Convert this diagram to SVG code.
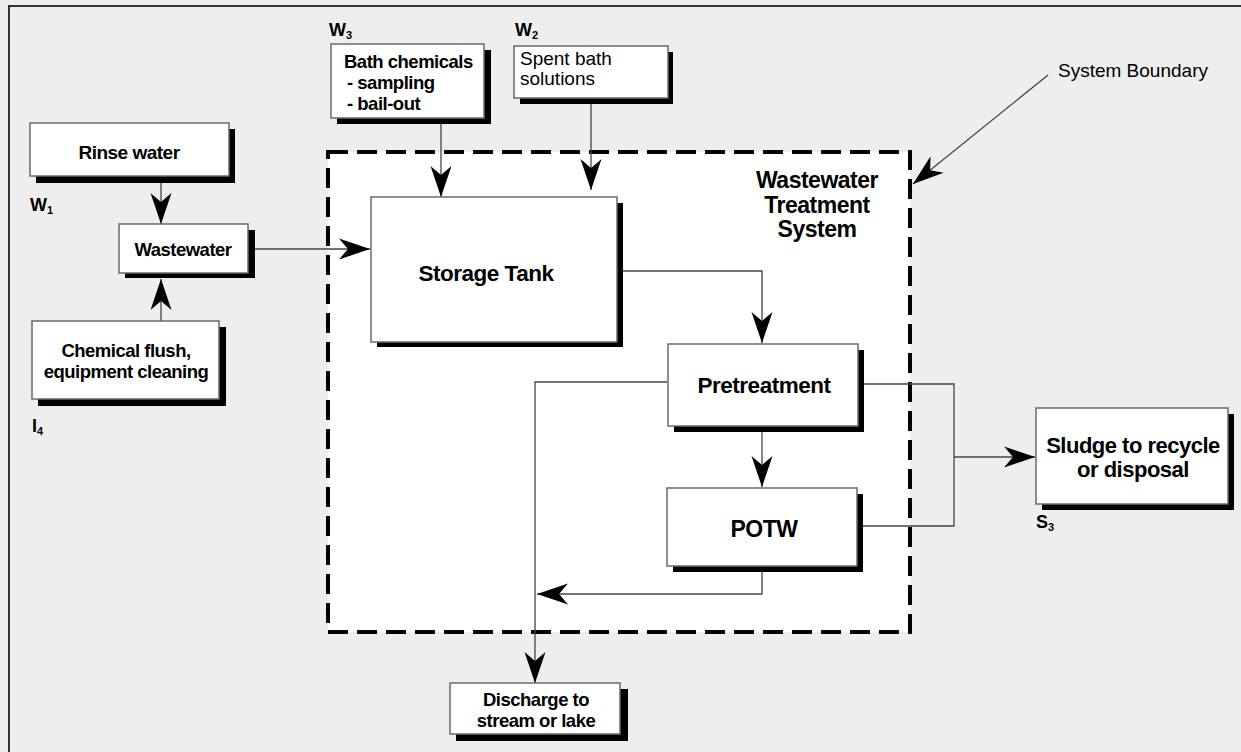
<svg xmlns="http://www.w3.org/2000/svg" width="1241" height="752" viewBox="0 0 1241 752">
  <style>
    text { font-family: "Liberation Sans", Arial, sans-serif; fill: #000; }
    .b { font-weight: bold; letter-spacing: -0.5px; }
    .box { fill: #fff; stroke: #6a6a6a; stroke-width: 1.5; }
    .sh { fill: #000; }
    .conn { fill: none; stroke: #444; stroke-width: 1.3; }
    .lbl { font-weight: bold; font-size: 18px; }
    .sub { font-size: 11px; }
  </style>
  <defs>
    <marker id="ah" viewBox="-32 -12 33 24" markerWidth="33" markerHeight="24" refX="0" refY="0" orient="auto" markerUnits="userSpaceOnUse">
      <path d="M0,0 L-31,-10.5 L-22,0 L-31,10.5 Z" fill="#000"/>
    </marker>
  </defs>

  <!-- page background and frame -->
  <rect x="0" y="0" width="1241" height="752" fill="#eeeeee"/>
  <path d="M9,752 V6 H1241" fill="none" stroke="#333" stroke-width="2"/>

  <!-- system boundary -->
  <g id="boundary">
    <rect x="328" y="152" width="582" height="480" fill="#fff" stroke="#000" stroke-width="4" stroke-dasharray="20 9"/>
    <text class="b" font-size="23" text-anchor="middle" x="817" y="188">Wastewater</text>
    <text class="b" font-size="23" text-anchor="middle" x="817" y="213">Treatment</text>
    <text class="b" font-size="23" text-anchor="middle" x="817" y="237">System</text>
  </g>

  <!-- connectors -->
  <g id="connectors" class="conn">
    <path class="conn" d="M161,183 V224" marker-end="url(#ah)"/>
    <path class="conn" d="M161,321 V279" marker-end="url(#ah)"/>
    <path class="conn" d="M255,249 H370" marker-end="url(#ah)"/>
    <path class="conn" d="M441,124 V197" marker-end="url(#ah)"/>
    <path class="conn" d="M591,104 V190" marker-end="url(#ah)"/>
    <path class="conn" d="M623,271 H762 V343" marker-end="url(#ah)"/>
    <path class="conn" d="M762,432 V487" marker-end="url(#ah)"/>
    <path class="conn" d="M667,382 H535 V683" marker-end="url(#ah)"/>
    <path class="conn" d="M762,572 V594 H537" marker-end="url(#ah)"/>
    <path class="conn" d="M864,384 H954 V526 H863"/>
    <path class="conn" d="M954,457 H1035" marker-end="url(#ah)"/>
    <path class="conn" d="M1048,75 L913,184" marker-end="url(#ah)"/>
  </g>

  <g id="rinse-water">
    <rect class="sh" x="36" y="129" width="199" height="54"/>
    <rect class="box" x="30" y="123" width="199" height="53"/>
    <text class="b" font-size="19" text-anchor="middle" x="129" y="159">Rinse water</text>
    <text class="lbl" x="30" y="211">W<tspan class="sub" dy="3">1</tspan></text>
  </g>

  <g id="wastewater">
    <rect class="sh" x="125" y="230" width="130" height="48"/>
    <rect class="box" x="119" y="224" width="129" height="49"/>
    <text class="b" font-size="18.5" text-anchor="middle" x="183" y="256">Wastewater</text>
  </g>

  <g id="chemical-flush">
    <rect class="sh" x="38" y="327" width="188" height="79"/>
    <rect class="box" x="32" y="321" width="187" height="78"/>
    <text class="b" font-size="18.5" text-anchor="middle" x="126" y="357">Chemical flush,</text>
    <text class="b" font-size="18.5" text-anchor="middle" x="126" y="378">equipment cleaning</text>
    <text class="lbl" x="32" y="432">I<tspan class="sub" dy="3">4</tspan></text>
  </g>

  <g id="bath-chemicals">
    <rect class="sh" x="337" y="50" width="154" height="74"/>
    <rect class="box" x="331" y="44" width="153" height="74"/>
    <text class="b" font-size="18.5" x="344" y="68">Bath chemicals</text>
    <text class="b" font-size="18.5" x="347" y="89">- sampling</text>
    <text class="b" font-size="18.5" x="347" y="110">- bail-out</text>
    <text class="lbl" x="329" y="36">W<tspan class="sub" dy="3">3</tspan></text>
  </g>

  <g id="spent-bath">
    <rect class="sh" x="520" y="52" width="153" height="52"/>
    <rect class="box" x="514" y="46" width="154" height="52"/>
    <text font-size="19" x="520" y="65">Spent bath</text>
    <text font-size="19" x="520" y="85">solutions</text>
    <text class="lbl" x="515" y="36">W<tspan class="sub" dy="3">2</tspan></text>
  </g>

  <g id="storage-tank">
    <rect class="sh" x="377" y="203" width="246" height="144"/>
    <rect class="box" x="371" y="197" width="246" height="145"/>
    <text class="b" font-size="22.5" text-anchor="middle" x="486" y="281">Storage Tank</text>
  </g>

  <g id="pretreatment">
    <rect class="sh" x="674" y="350" width="190" height="82"/>
    <rect class="box" x="668" y="344" width="190" height="82"/>
    <text class="b" font-size="22.5" text-anchor="middle" x="764" y="393">Pretreatment</text>
  </g>

  <g id="potw">
    <rect class="sh" x="673" y="494" width="190" height="78"/>
    <rect class="box" x="667" y="488" width="190" height="78"/>
    <text class="b" font-size="23" text-anchor="middle" x="764" y="537">POTW</text>
  </g>

  <g id="sludge">
    <rect class="sh" x="1042" y="414" width="192" height="96"/>
    <rect class="box" x="1036" y="408" width="192" height="96"/>
    <text class="b" font-size="22" text-anchor="middle" x="1133" y="453">Sludge to recycle</text>
    <text class="b" font-size="22" text-anchor="middle" x="1133" y="477">or disposal</text>
    <text class="lbl" x="1036" y="528">S<tspan class="sub" dy="3">3</tspan></text>
  </g>

  <g id="discharge">
    <rect class="sh" x="456" y="689" width="172" height="52"/>
    <rect class="box" x="450" y="683" width="170" height="51"/>
    <text class="b" font-size="18.5" text-anchor="middle" x="536" y="706">Discharge to</text>
    <text class="b" font-size="18.5" text-anchor="middle" x="536" y="727">stream or lake</text>
  </g>

  <g id="system-boundary-label">
    <text font-size="19" x="1058" y="77">System Boundary</text>
  </g>
</svg>
